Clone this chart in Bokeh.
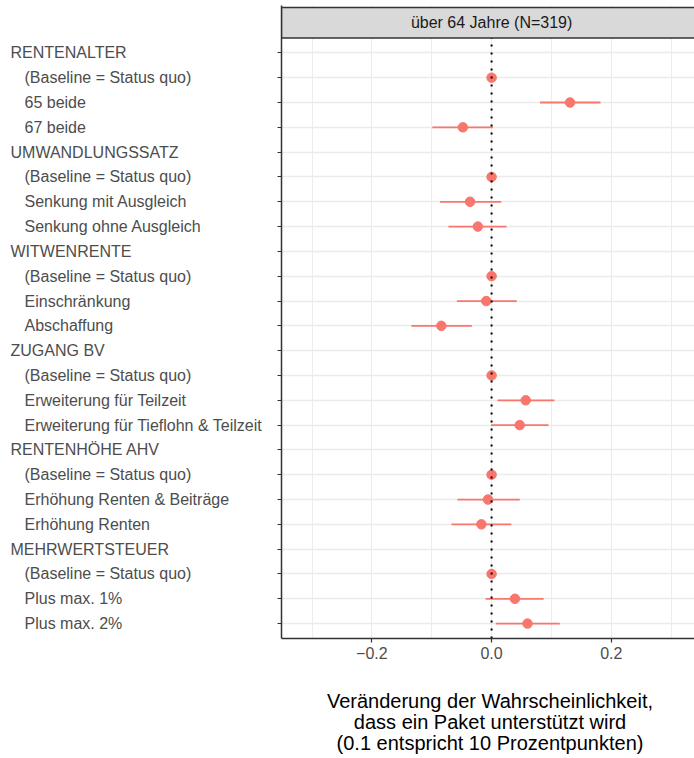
import math
from bokeh.plotting import figure
from bokeh.layouts import row, column
from bokeh.models import Range1d, FixedTicker, ColumnDataSource
from bokeh.core.properties import value
from bokeh.embed import file_html
from bokeh.resources import INLINE

# ---------------- data ----------------
labels = [
    "RENTENALTER", "(Baseline = Status quo)", "65 beide", "67 beide",
    "UMWANDLUNGSSATZ", "(Baseline = Status quo)", "Senkung mit Ausgleich", "Senkung ohne Ausgleich",
    "WITWENRENTE", "(Baseline = Status quo)", "Einschränkung", "Abschaffung",
    "ZUGANG BV", "(Baseline = Status quo)", "Erweiterung für Teilzeit", "Erweiterung für Tieflohn & Teilzeit",
    "RENTENHÖHE AHV", "(Baseline = Status quo)", "Erhöhung Renten & Beiträge", "Erhöhung Renten",
    "MEHRWERTSTEUER", "(Baseline = Status quo)", "Plus max. 1%", "Plus max. 2%",
]
is_header = [True, False, False, False,
             True, False, False, False,
             True, False, False, False,
             True, False, False, False,
             True, False, False, False,
             True, False, False, False]
nan = float("nan")
estimate = [nan, 0.0, 0.131, -0.048,
            nan, 0.0, -0.036, -0.023,
            nan, 0.0, -0.009, -0.084,
            nan, 0.0, 0.057, 0.047,
            nan, 0.0, -0.006, -0.017,
            nan, 0.0, 0.039, 0.060]
lower = [nan, nan, 0.081, -0.099,
         nan, nan, -0.086, -0.072,
         nan, nan, -0.058, -0.134,
         nan, nan, 0.010, -0.001,
         nan, nan, -0.057, -0.067,
         nan, nan, -0.010, 0.007]
upper = [nan, nan, 0.182, 0.002,
         nan, nan, 0.016, 0.025,
         nan, nan, 0.042, -0.033,
         nan, nan, 0.105, 0.095,
         nan, nan, 0.047, 0.033,
         nan, nan, 0.087, 0.114]
x_ticks = [-0.2, 0.0, 0.2]
x_minor = [-0.3, -0.1, 0.1, 0.3]
x_tick_labels = {-0.2: "\u22120.2", 0.0: "0.0", 0.2: "0.2"}
strip_label = "über 64 Jahre (N=319)"
x_title_lines = ["Veränderung der Wahrscheinlichkeit,",
                 "dass ein Paket unterstützt wird",
                 "(0.1 entspricht 10 Prozentpunkten)"]

# ---------------- layout constants ----------------
n = len(labels)
ypos = [n - 1 - i for i in range(n)]
FONT = "Liberation Sans"
RED = "#F8766D"
W = 694
TH = 80            # height of the x-title area
H = 758 - TH       # height of the plotting row
TOP = 5
BOTTOM = 40
y_range = Range1d(-0.6, 24.91)
x_range = Range1d(-0.351, 0.339)
strip_bottom = n - 1 + 0.6
strip_top = 24.83

# ---------------- label figure ----------------
LW = 275
lab = figure(width=LW, height=H, x_range=Range1d(0, LW), y_range=y_range,
             output_backend="svg", toolbar_location=None,
             min_border_left=0, min_border_right=0,
             min_border_top=TOP, min_border_bottom=BOTTOM)
lab.axis.visible = False
lab.grid.visible = False
lab.outline_line_color = None
lab_src = ColumnDataSource(dict(
    x=[10 if h else 24 for h in is_header],
    y=ypos, text=labels))
lab.text(x="x", y="y", text="text", source=lab_src,
         text_align="left", text_baseline="middle",
         text_font=value(FONT), text_font_size="16px", text_color="#4D4D4D")

# ---------------- main figure ----------------
p = figure(width=W - LW, height=H, x_range=x_range, y_range=y_range,
           output_backend="svg", toolbar_location=None,
           min_border_left=6, min_border_right=0,
           min_border_top=TOP, min_border_bottom=BOTTOM)
p.outline_line_color = None
p.background_fill_color = "white"

# grids
p.xgrid.ticker = FixedTicker(ticks=x_ticks, minor_ticks=x_minor)
p.xgrid.grid_line_color = "#EBEBEB"
p.xgrid.grid_line_width = 1.1
p.xgrid.minor_grid_line_color = "#EBEBEB"
p.xgrid.minor_grid_line_width = 0.9
p.ygrid.ticker = FixedTicker(ticks=ypos)
p.ygrid.grid_line_color = "#EBEBEB"
p.ygrid.grid_line_width = 1.4

# axes
xa = p.xaxis[0]
xa.ticker = FixedTicker(ticks=x_ticks, minor_ticks=x_minor)
xa.major_label_overrides = x_tick_labels
xa.axis_line_color = "#333333"
xa.axis_line_width = 1.5
xa.major_tick_line_color = "#333333"
xa.major_tick_line_width = 1.2
xa.major_tick_out = 4
xa.major_tick_in = 0
xa.minor_tick_out = 0
xa.minor_tick_in = 0
xa.major_label_standoff = 4
xa.major_label_text_font = FONT
xa.major_label_text_font_size = "16px"
xa.major_label_text_color = "#4D4D4D"

ya = p.yaxis[0]
ya.ticker = FixedTicker(ticks=ypos)
ya.major_label_overrides = {y: "" for y in ypos}
ya.major_label_standoff = 0
ya.axis_line_color = "#333333"
ya.axis_line_width = 1.5
ya.major_tick_line_color = "#333333"
ya.major_tick_line_width = 1.2
ya.major_tick_out = 4
ya.major_tick_in = 0
ya.minor_tick_out = 0
ya.minor_tick_in = 0

# strip
p.quad(left=[x_range.start], right=[x_range.end + 0.05], bottom=[strip_bottom], top=[strip_top],
       fill_color="#D9D9D9", line_color="#333333", line_width=1.3)
p.text(x=[0.0], y=[(strip_bottom + strip_top) / 2], text=[strip_label],
       text_align="center", text_baseline="middle",
       text_font=value(FONT), text_font_size="16px", text_color="#1A1A1A")

# error bars
ci_idx = [i for i in range(n) if not math.isnan(lower[i])]
ci_src = ColumnDataSource(dict(
    x0=[lower[i] for i in ci_idx], x1=[upper[i] for i in ci_idx],
    y=[ypos[i] for i in ci_idx]))
p.segment(x0="x0", y0="y", x1="x1", y1="y", source=ci_src,
          line_color=RED, line_width=1.8)

# points
pt_idx = [i for i in range(n) if not math.isnan(estimate[i])]
pt_src = ColumnDataSource(dict(
    x=[estimate[i] for i in pt_idx], y=[ypos[i] for i in pt_idx]))
p.scatter(x="x", y="y", source=pt_src, size=9.5, fill_color=RED, line_color=RED)

# dotted reference line at 0
p.segment(x0=[0.0], y0=[-0.6], x1=[0.0], y1=[strip_bottom],
          line_color="black", line_width=2, line_dash="2 6")

# ---------------- x-axis title figure ----------------
tf = figure(width=W, height=TH, x_range=Range1d(0, W), y_range=Range1d(TH, 0),
            output_backend="svg", toolbar_location=None,
            min_border=0)
tf.axis.visible = False
tf.grid.visible = False
tf.outline_line_color = None
tsrc = ColumnDataSource(dict(
    x=[489.5] * len(x_title_lines),
    y=[22 + 21 * k for k in range(len(x_title_lines))],
    text=x_title_lines))
tf.text(x="x", y="y", text="text", source=tsrc,
        text_align="center", text_baseline="alphabetic",
        text_font=value(FONT), text_font_size="20px", text_color="#000000")

layout = column(row(lab, p), tf)
open("out.html", "w").write(file_html(layout, INLINE))
